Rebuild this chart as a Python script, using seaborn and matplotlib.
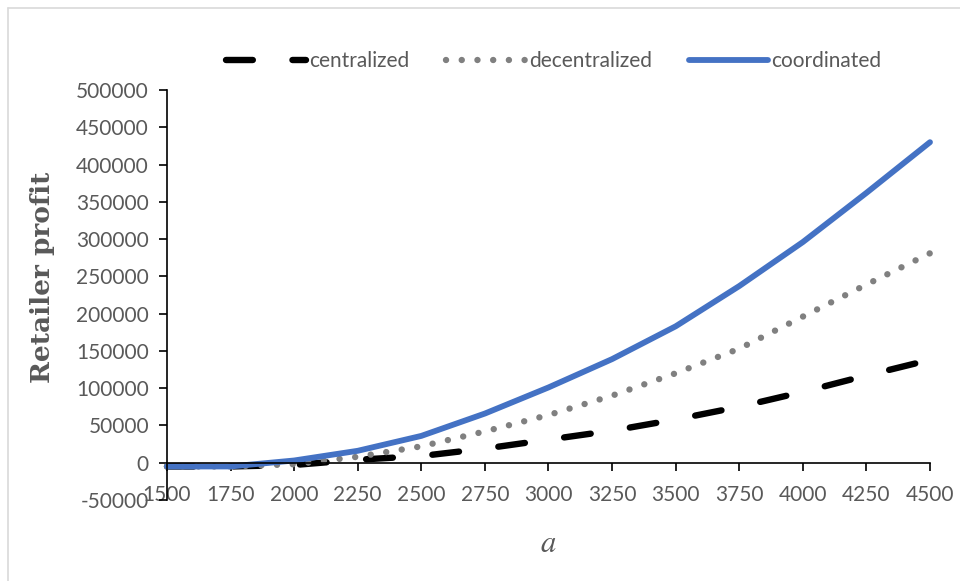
import matplotlib
matplotlib.use("Agg")
import matplotlib.pyplot as plt
from matplotlib.lines import Line2D
import pandas as pd
import seaborn as sns

# Market size parameter a and retailer profit under each channel structure
a_values = [1500, 1750, 2000, 2250, 2500, 2750, 3000, 3250, 3500, 3750, 4000, 4250, 4500]
centralized = [-5000, -5000, -3000, 4000, 9000, 19000, 31000, 43000, 58000, 75000, 95000, 117000, 138000]
decentralized = [-5000, -5000, -2000, 8000, 22000, 42000, 64000, 90000, 120000, 153000, 196000, 239000, 281000]
coordinated = [-5000, -5000, 3000, 16000, 36000, 66000, 101000, 139000, 183000, 237000, 296000, 362000, 430000]

x_ticks = list(range(1500, 4501, 250))
y_ticks = list(range(-50000, 500001, 50000))

sns.set_theme(style="white")
plt.rcParams["font.family"] = ["Lato", "DejaVu Sans"]
plt.rcParams["mathtext.fontset"] = "stix"

W, H = 960, 581
fig = plt.figure(figsize=(W / 100, H / 100), dpi=100)
ax = fig.add_axes([167 / W, 1 - 500 / H, (930 - 167) / W, (500 - 90) / H])

text_gray = "#595959"

sns.lineplot(x=a_values, y=centralized, ax=ax, color="black", lw=4.6,
             linestyle=(0, (4.2, 6.2)), dash_capstyle="round",
             label="centralized", clip_on=False)
sns.lineplot(x=a_values, y=decentralized, ax=ax, color="#808080", lw=4.6,
             linestyle=(0, (0.01, 2.45)), dash_capstyle="round",
             label="decentralized", clip_on=False)
sns.lineplot(x=a_values, y=coordinated, ax=ax, color="#4472C4", lw=4.2,
             solid_capstyle="round", label="coordinated", clip_on=False)

ax.set_xlim(1500, 4500)
ax.set_ylim(-50000, 500000)
ax.set_xticks(x_ticks)
ax.set_yticks(y_ticks)
ax.set_xticklabels([str(v) for v in x_ticks])
ax.set_yticklabels([str(v) for v in y_ticks])

for side in ("top", "right"):
    ax.spines[side].set_visible(False)
for side in ("left", "bottom"):
    ax.spines[side].set_color("black")
    ax.spines[side].set_linewidth(1.2)
ax.spines["bottom"].set_position(("data", 0))

ax.tick_params(axis="both", direction="out", length=6, width=1.2, color="black",
               labelcolor=text_gray, labelsize=15)
ax.tick_params(axis="x", pad=10, bottom=True)
ax.tick_params(axis="y", pad=7, left=True)

ax.set_ylabel("Retailer profit", fontfamily="DejaVu Serif", fontweight="bold",
              fontsize=19, color=text_gray)
ax.yaxis.set_label_coords(43 / W, 1 - 277 / H, transform=fig.transFigure)
ax.yaxis.label.set_verticalalignment("center")

ax.set_xlabel("$a$", fontsize=22, color=text_gray)
ax.xaxis.set_label_coords(548 / W, 1 - 543 / H, transform=fig.transFigure)
ax.xaxis.label.set_verticalalignment("center")

leg = ax.legend(loc="center", bbox_to_anchor=(554 / W, 1 - 61 / H),
                bbox_transform=fig.transFigure, ncol=3, frameon=False,
                fontsize=15, handlelength=3.8, handletextpad=0.15,
                columnspacing=1.8, labelcolor=text_gray)

# Light chart-area border along the top and left edges
fig.add_artist(Line2D([8 / W, 1.01], [1 - 8 / H, 1 - 8 / H], color="#D9D9D9", lw=1.2,
                      transform=fig.transFigure))
fig.add_artist(Line2D([8 / W, 8 / W], [-0.01, 1 - 8 / H], color="#D9D9D9", lw=1.2,
                      transform=fig.transFigure))

fig.savefig("out.png", dpi=100, facecolor="white")
